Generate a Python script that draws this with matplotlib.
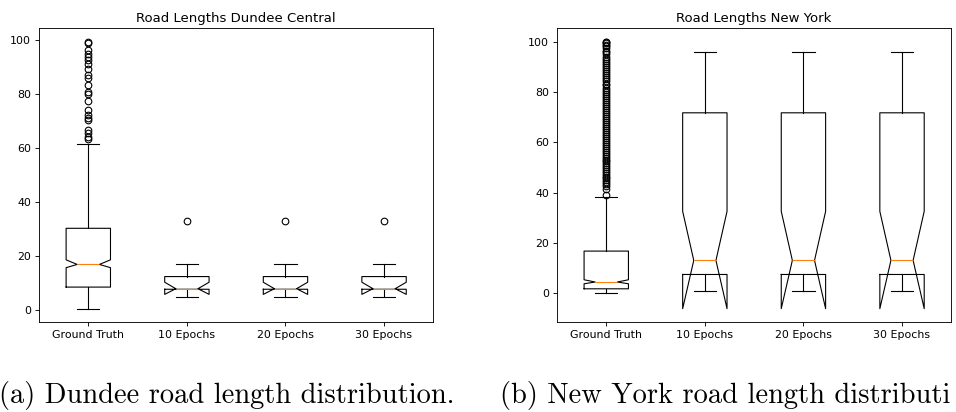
import matplotlib
matplotlib.use("Agg")
import matplotlib.pyplot as plt

# box statistics
labels = ["Ground Truth", "10 Epochs", "20 Epochs", "30 Epochs"]

dundee_whislo = [0.4, 4.7, 4.7, 4.7]
dundee_q1 = [8.4, 7.6, 7.6, 7.6]
dundee_med = [16.8, 7.8, 7.8, 7.8]
dundee_q3 = [30.2, 12.3, 12.3, 12.3]
dundee_whishi = [61.4, 17.0, 17.0, 17.0]
dundee_cilo = [15.6, 5.7, 5.7, 5.7]
dundee_cihi = [18.5, 10.2, 10.2, 10.2]
dundee_fliers = [
    [63.3, 64.0, 65.6, 66.5, 70.5, 71.2, 72.1, 73.9, 77.5, 80.1, 80.6,
     83.4, 86.0, 86.9, 89.1, 91.2, 92.5, 93.7, 94.9, 96.2, 99.0, 99.4],
    [32.8],
    [32.8],
    [32.8],
]

ny_whislo = [0.0, 0.9, 0.9, 0.9]
ny_q1 = [1.7, 7.4, 7.4, 7.4]
ny_med = [4.4, 13.0, 13.0, 13.0]
ny_q3 = [16.7, 71.7, 71.7, 71.7]
ny_whishi = [38.4, 96.0, 96.0, 96.0]
ny_cilo = [3.7, -6.2, -6.2, -6.2]
ny_cihi = [5.3, 32.5, 32.5, 32.5]
ny_fliers = [
    [39.2, 41.5, 42.6, 43.4, 44.1, 44.9, 45.6, 46.2, 47.0, 47.8, 48.5, 49.3,
     50.1, 50.8, 51.6, 52.4, 53.1, 53.9, 54.7, 55.5, 56.2, 57.0, 57.9, 58.6,
     59.4, 60.1, 60.9, 61.8, 62.5, 63.3, 64.0, 64.8, 65.7, 66.4, 67.2, 68.0,
     68.9, 69.6, 70.4, 71.3, 72.0, 72.8, 73.7, 74.5, 75.2, 76.1, 76.9, 77.6,
     78.5, 79.3, 80.1, 80.9, 81.7, 82.6, 83.3, 84.2, 85.0, 85.8, 86.7, 87.4,
     88.3, 89.1, 89.9, 90.8, 91.6, 92.3, 93.2, 94.0, 94.9, 95.7, 96.4, 97.3,
     98.1, 98.8, 99.4, 99.7, 100.0],
    [],
    [],
    [],
]

captions = ["(a) Dundee road length distribution.",
            "(b) New York road length distributi"]  # cut at the page edge


def make_stats(whislo, q1, med, q3, whishi, cilo, cihi, fliers):
    stats = []
    for i in range(len(labels)):
        stats.append(dict(label=labels[i], whislo=whislo[i], q1=q1[i],
                          med=med[i], q3=q3[i], whishi=whishi[i],
                          cilo=cilo[i], cihi=cihi[i], fliers=fliers[i]))
    return stats


s = 0.795  # the plots were shrunk when placed in the page
lw = 1.0 * s

fig = plt.figure(figsize=(9.56, 4.12), dpi=100)
ax1 = fig.add_axes([0.0408, 0.2184, 0.4125, 0.7129])
ax2 = fig.add_axes([0.5826, 0.2184, 0.4125, 0.7129])

box_kw = dict(shownotches=True,
              boxprops=dict(linewidth=lw, color="black"),
              whiskerprops=dict(linewidth=lw, color="black"),
              capprops=dict(linewidth=lw, color="black"),
              medianprops=dict(linewidth=lw, color="C1"),
              flierprops=dict(marker="o", markersize=6 * s, markeredgewidth=lw,
                              markerfacecolor="none", markeredgecolor="black"))

ax1.bxp(make_stats(dundee_whislo, dundee_q1, dundee_med, dundee_q3,
                   dundee_whishi, dundee_cilo, dundee_cihi, dundee_fliers),
        **box_kw)
ax2.bxp(make_stats(ny_whislo, ny_q1, ny_med, ny_q3,
                   ny_whishi, ny_cilo, ny_cihi, ny_fliers),
        **box_kw)

ax1.set_title("Road Lengths Dundee Central", fontsize=12 * s, pad=6 * s)
ax2.set_title("Road Lengths New York", fontsize=12 * s, pad=6 * s)

for ax in (ax1, ax2):
    ax.tick_params(labelsize=10 * s, length=3.5 * s, width=0.8 * s, pad=3.5 * s)
    for sp in ax.spines.values():
        sp.set_linewidth(0.8 * s)
    ax.set_yticks([0, 20, 40, 60, 80, 100])

# captions from the document
fig.text(-0.001, 0.022, captions[0],
         fontfamily="cmr10", fontsize=20.5, ha="left", va="baseline")
fig.text(0.523, 0.022, captions[1],
         fontfamily="cmr10", fontsize=20.5, ha="left", va="baseline")

fig.savefig("out.png", dpi=100)
